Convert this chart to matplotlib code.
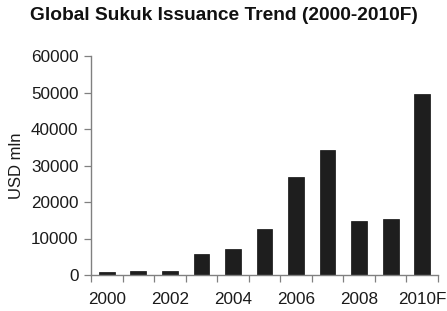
import matplotlib.pyplot as plt
import numpy as np

# Dados (USD mln)
anos = ['2000', '2001', '2002', '2003', '2004', '2005', '2006', '2007', '2008', '2009', '2010F']
emissao = [800, 1100, 1100, 5750, 7200, 12500, 26800, 34200, 14800, 15300, 49700]
yticks = [0, 10000, 20000, 30000, 40000, 50000, 60000]

plt.rcParams['font.family'] = ['Liberation Sans', 'DejaVu Sans']

fig = plt.figure(figsize=(4.47, 3.11), dpi=100)
ax = fig.add_axes([91/447, 36/311, 347/447, 219/311])

x = np.arange(len(anos))
ax.bar(x, emissao, width=0.5, color='#1e1e1e', edgecolor='#111111', linewidth=0.5)

ax.set_xlim(-0.5, len(anos) - 0.5)
ax.set_ylim(0, 60000)
ax.set_yticks(yticks)
ax.set_yticklabels([str(v) for v in yticks])

# ticks nas fronteiras das categorias, rótulos a cada dois anos
ax.set_xticks(np.arange(-0.5, len(anos)), minor=False)
ax.set_xticklabels([])
ax.set_xticks(x[::2], minor=True)
ax.set_xticklabels(anos[::2], minor=True)
ax.tick_params(axis='x', which='major', length=5, width=0.9, color='#808080', direction='out')
ax.tick_params(axis='x', which='minor', length=0, pad=12, labelsize=12.3, labelcolor='#1a1a1a')
ax.tick_params(axis='y', length=5, width=0.9, color='#808080', pad=4, labelsize=12.3, labelcolor='#1a1a1a')

for s in ['top', 'right']:
    ax.spines[s].set_visible(False)
for s in ['left', 'bottom']:
    ax.spines[s].set_color('#808080')
    ax.spines[s].set_linewidth(1.0)

ax.set_ylabel('USD mln', fontsize=12, color='#1a1a1a', labelpad=5)
fig.text(0.5, 0.949, 'Global Sukuk Issuance Trend (2000-2010F)', ha='center', va='center',
         fontsize=13.8, fontweight='bold', color='#111111')

fig.savefig('out.png', dpi=100)
